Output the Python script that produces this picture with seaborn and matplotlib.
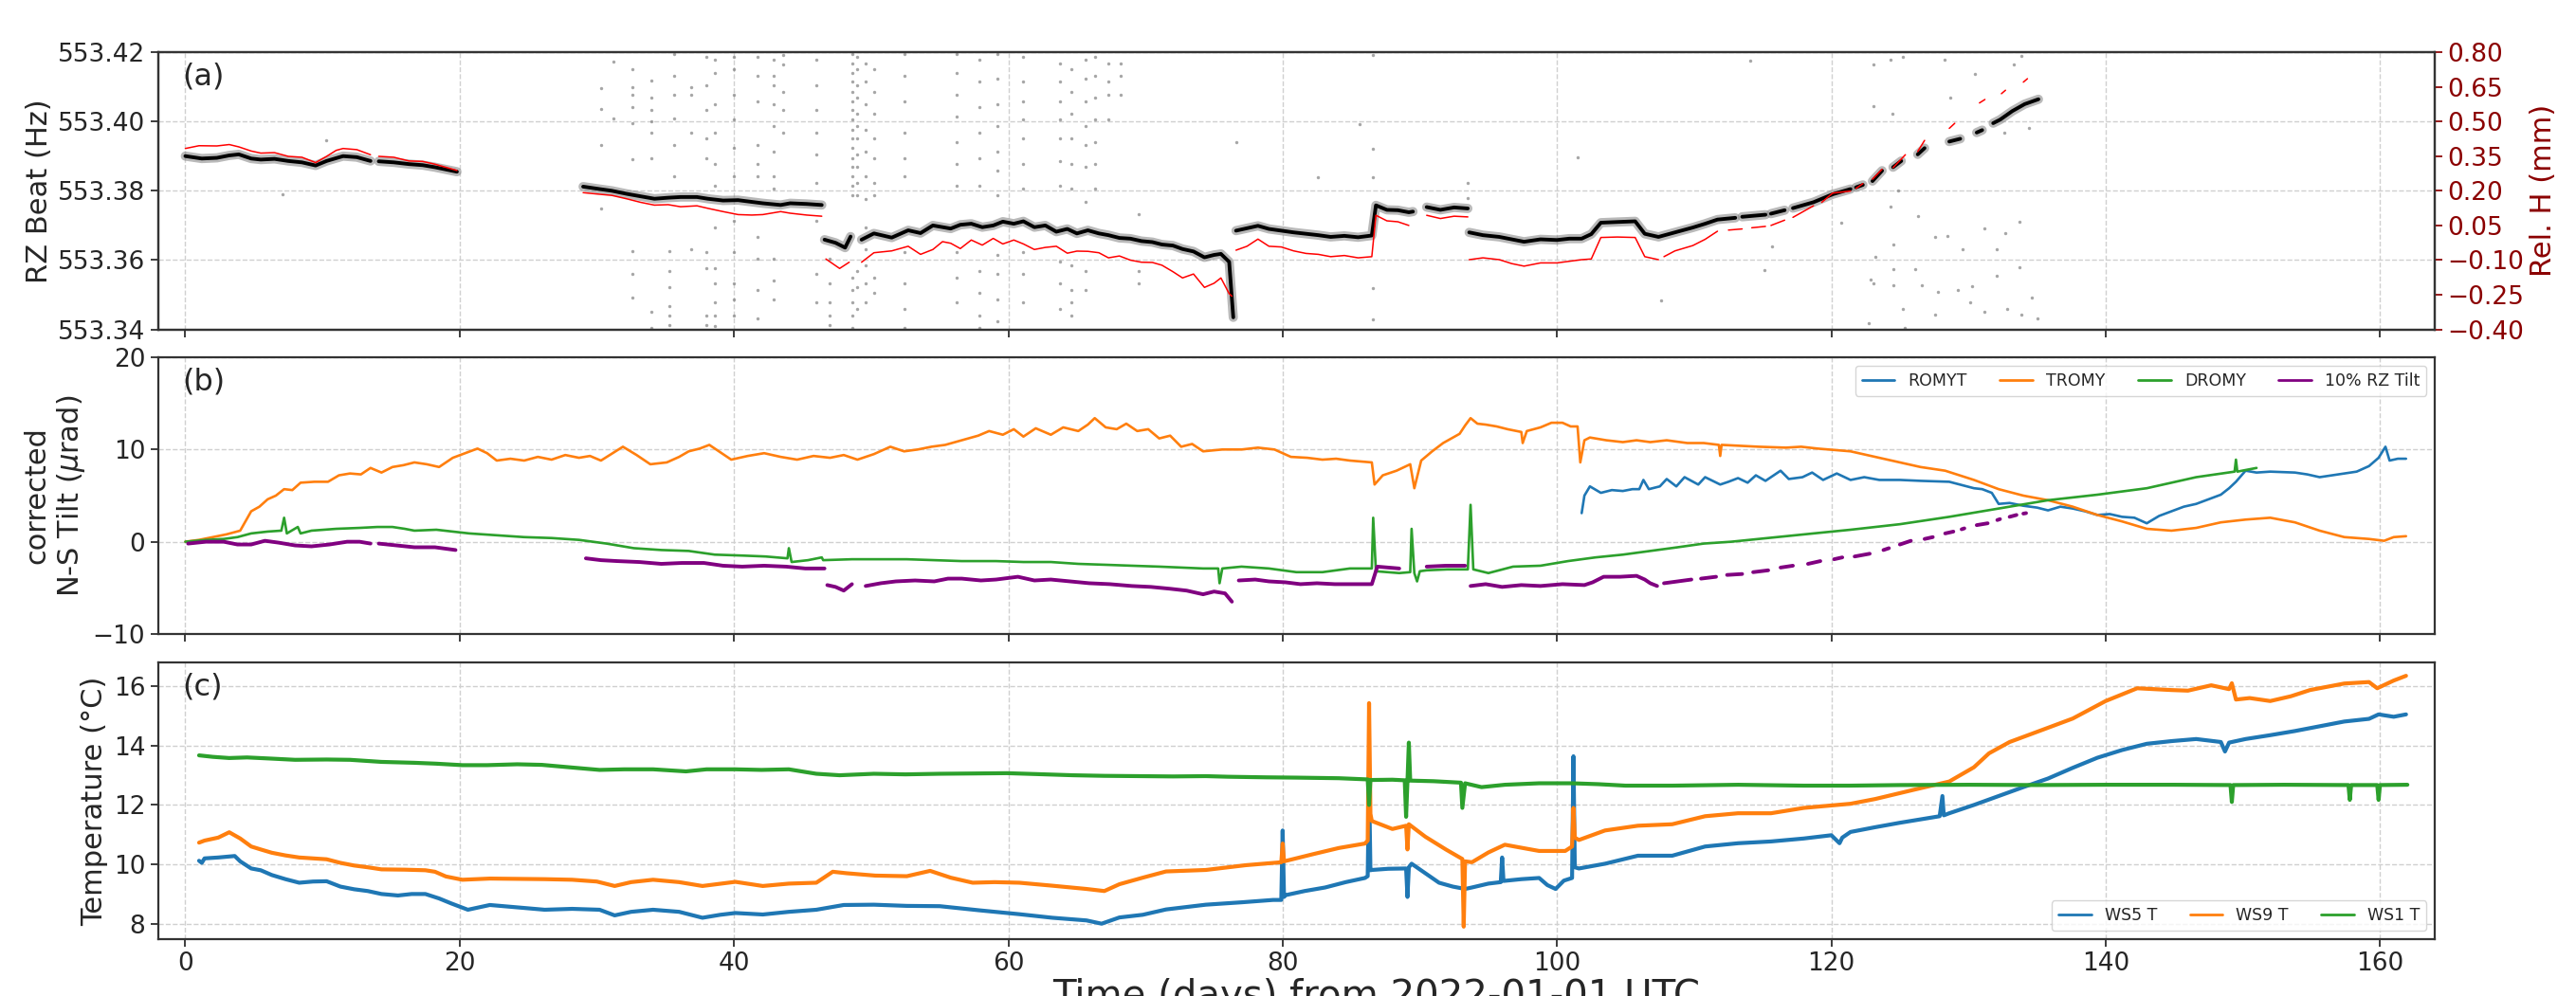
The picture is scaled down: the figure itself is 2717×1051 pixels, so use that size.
import matplotlib
matplotlib.use("Agg")
import matplotlib.pyplot as plt
from matplotlib.lines import Line2D
from matplotlib.ticker import FuncFormatter
import pandas as pd
import seaborn as sns

# values; x = days from 2022-01-01, None = data gap
rz_beat = [(0.0, 553.3900), (1.2, 553.3893), (2.3, 553.3895), (3.2, 553.3902), (3.9, 553.3905), (4.8, 553.3893),
           (5.5, 553.3890), (6.5, 553.3892), (7.5, 553.3886), (8.5, 553.3882), (9.5, 553.3873), (10.3, 553.3886),
           (11.5, 553.3900), (12.5, 553.3897), (13.5, 553.3886), None,
           (14.1, 553.3885), (15.2, 553.3882), (16.3, 553.3877), (17.3, 553.3874), (18.2, 553.3868), (19.8, 553.3855), None,
           (29.0, 553.3812), (30.2, 553.3805), (31.1, 553.3800), (32.2, 553.3791), (33.2, 553.3784), (34.2, 553.3777),
           (35.2, 553.3780), (36.1, 553.3782), (37.3, 553.3782), (38.1, 553.3777), (39.2, 553.3772), (40.3, 553.3773),
           (41.3, 553.3768), (42.1, 553.3764), (43.4, 553.3759), (44.1, 553.3764), (45.3, 553.3762), (46.4, 553.3759), None,
           (46.6, 553.3659), (47.4, 553.3650), (48.1, 553.3636), (48.5, 553.3668), None,
           (49.3, 553.3659), (50.2, 553.3677), (51.5, 553.3665), (52.7, 553.3686), (53.6, 553.3678), (54.5, 553.3700),
           (55.8, 553.3691), (56.5, 553.3702), (57.3, 553.3705), (58.1, 553.3695), (58.9, 553.3700), (59.6, 553.3711),
           (60.4, 553.3705), (61.1, 553.3712), (61.9, 553.3695), (62.7, 553.3700), (63.5, 553.3682), (64.3, 553.3690),
           (65.0, 553.3677), (65.8, 553.3686), (66.6, 553.3677), (67.3, 553.3672), (68.1, 553.3664), (68.9, 553.3662),
           (69.7, 553.3655), (70.5, 553.3652), (71.2, 553.3645), (72.0, 553.3642), (72.7, 553.3632), (73.5, 553.3625),
           (74.3, 553.3608), (75.0, 553.3615), (75.5, 553.3618), (76.1, 553.3595), (76.4, 553.3435), None,
           (76.6, 553.3685), (77.4, 553.3692), (78.2, 553.3699), (79.0, 553.3690), (79.9, 553.3685), (80.8, 553.3680),
           (81.7, 553.3676), (82.6, 553.3672), (83.5, 553.3667), (84.5, 553.3670), (85.5, 553.3666), (86.5, 553.3671),
           (86.8, 553.3758), (87.6, 553.3745), (88.4, 553.3744), (89.2, 553.3738), (89.5, 553.3740), None,
           (90.5, 553.3753), (91.5, 553.3745), (92.5, 553.3752), (93.5, 553.3749), None,
           (93.6, 553.3680), (94.6, 553.3672), (95.8, 553.3667), (96.7, 553.3660), (97.6, 553.3653), (98.8, 553.3660),
           (100.0, 553.3658), (100.9, 553.3662), (101.8, 553.3662), (102.5, 553.3675), (103.2, 553.3708), (104.4, 553.3710),
           (105.7, 553.3712), (106.4, 553.3676), (107.4, 553.3667), (108.6, 553.3680), (109.9, 553.3694), (110.8, 553.3705),
           (111.7, 553.3717), (113.0, 553.3722), None, (113.5, 553.3725), (115.2, 553.3731), None,
           (115.6, 553.3734), (116.6, 553.3744), None, (117.2, 553.3750), (118.7, 553.3767), (120.1, 553.3790),
           (121.4, 553.3805), None, (121.8, 553.3810), (122.3, 553.3817), None, (123.0, 553.3828), (123.7, 553.3858), None,
           (124.5, 553.3868), (125.1, 553.3886), None, (126.3, 553.3905), (126.8, 553.3923), None,
           (128.6, 553.3942), (129.4, 553.3950), None, (130.6, 553.3968), (131.0, 553.3975), None,
           (131.8, 553.3995), (132.3, 553.4005), (133.2, 553.4030), (134.1, 553.4050), (135.1, 553.4064)]

rel_h = [(0.0, 0.383), (1.0, 0.395), (2.3, 0.394), (3.2, 0.400), (3.9, 0.390), (4.8, 0.372), (5.5, 0.363),
         (6.5, 0.365), (7.5, 0.349), (8.5, 0.345), (9.5, 0.322), (10.3, 0.349), (11.0, 0.375), (11.5, 0.383),
         (12.5, 0.378), (13.5, 0.356), None,
         (14.1, 0.349), (15.2, 0.345), (16.3, 0.329), (17.3, 0.327), (18.2, 0.315), (19.8, 0.288), None,
         (29.0, 0.192), (30.2, 0.185), (31.1, 0.180), (32.2, 0.165), (33.2, 0.150), (34.2, 0.138), (35.2, 0.140),
         (36.1, 0.131), (37.3, 0.135), (38.1, 0.124), (39.2, 0.110), (40.3, 0.097), (41.3, 0.095), (42.1, 0.097),
         (43.4, 0.110), (44.1, 0.103), (45.3, 0.095), (46.4, 0.090), None,
         (46.7, -0.095), (47.7, -0.136), (48.4, -0.109), None,
         (49.3, -0.109), (50.2, -0.068), (51.5, -0.060), (52.7, -0.040), (53.6, -0.075), (54.5, -0.054),
         (55.2, -0.020), (55.8, -0.027), (56.5, -0.050), (57.3, -0.013), (58.1, -0.035), (58.9, -0.006),
         (59.6, -0.030), (60.4, -0.013), (61.1, -0.030), (61.9, -0.054), (62.7, -0.045), (63.5, -0.040),
         (64.3, -0.070), (65.0, -0.061), (65.8, -0.062), (66.6, -0.068), (67.3, -0.090), (68.1, -0.082),
         (68.9, -0.100), (69.7, -0.109), (70.5, -0.110), (71.2, -0.122), (72.0, -0.150), (72.7, -0.177),
         (73.5, -0.160), (74.3, -0.218), (75.0, -0.200), (75.5, -0.177), (76.1, -0.245), (76.3, -0.256), None,
         (76.6, -0.057), (77.4, -0.040), (78.2, -0.009), (79.0, -0.040), (79.9, -0.043), (80.8, -0.060),
         (81.7, -0.071), (82.6, -0.075), (83.5, -0.085), (84.5, -0.080), (85.5, -0.090), (86.5, -0.085),
         (86.8, 0.094), (87.6, 0.070), (88.4, 0.066), (89.2, 0.050), None,
         (90.5, 0.094), (91.5, 0.080), (92.5, 0.090), (93.5, 0.087), None,
         (93.6, -0.098), (94.6, -0.090), (95.8, -0.098), (96.7, -0.115), (97.6, -0.126), (98.8, -0.112),
         (100.0, -0.112), (100.9, -0.105), (101.8, -0.098), (102.5, -0.095), (103.2, -0.002), (104.4, 0.000),
         (105.7, -0.002), (106.4, -0.085), (107.4, -0.098), None,
         (107.8, -0.085), (108.6, -0.060), (109.9, -0.037), (110.8, -0.010), (111.7, 0.025), None,
         (112.5, 0.030), (113.5, 0.035), None, (114.2, 0.040), (115.2, 0.046), None, (115.6, 0.050), (116.6, 0.073), None,
         (117.2, 0.085), (118.7, 0.135), None, (119.3, 0.150), (120.1, 0.190), (121.4, 0.199), None,
         (121.8, 0.210), (122.3, 0.231), None, (123.0, 0.250), (123.7, 0.293), None, (124.5, 0.300), (125.4, 0.356), None,
         (126.3, 0.370), (126.8, 0.418), None, (128.6, 0.470), (129.0, 0.492), None, (130.8, 0.580), (131.2, 0.595), None,
         (132.4, 0.620), (132.7, 0.635), None, (134.0, 0.670), (134.3, 0.685)]

# gray outlier readings of the beat frequency: (day, [Hz values])
beat_spike_columns = [
    (30.3, [553.4095, 553.4036, 553.3932, 553.3750]),
    (31.2, [553.4173, 553.4009]),
    (32.6, [553.4150, 553.4100, 553.4077, 553.4041, 553.3995, 553.3891, 553.3627, 553.3559, 553.3491]),
    (34.0, [553.4118, 553.4068, 553.4032, 553.4000, 553.3968, 553.3895, 553.3450, 553.3405]),
    (35.3, [553.3627, 553.3568, 553.3523, 553.3468, 553.3441, 553.3414]),
    (35.6, [553.4195, 553.4132, 553.4077, 553.4009, 553.3932, 553.3841]),
    (36.9, [553.4100, 553.4077, 553.3968, 553.3632]),
    (38.0, [553.4186, 553.4105, 553.4032, 553.3950, 553.3895, 553.3623, 553.3577, 553.3441, 553.3414]),
    (38.6, [553.4177, 553.4141, 553.4050, 553.3968, 553.3877, 553.3814, 553.3695, 553.3577, 553.3532,
            553.3477, 553.3441, 553.3409]),
    (40.0, [553.4186, 553.4150, 553.4077, 553.4005, 553.3923, 553.3841, 553.3714, 553.3623, 553.3532,
            553.3486, 553.3441]),
    (41.7, [553.4186, 553.4132, 553.4059, 553.3932, 553.3877, 553.3841, 553.3668, 553.3605, 553.3514, 553.3432]),
    (42.9, [553.4177, 553.4132, 553.4105, 553.4050, 553.3986, 553.3914, 553.3841, 553.3805, 553.3605,
            553.3541, 553.3486]),
    (43.6, [553.4191, 553.4164, 553.4086, 553.4032, 553.3968]),
    (46.0, [553.4177, 553.4105, 553.4032, 553.3968, 553.3905, 553.3823, 553.3714, 553.3559, 553.3477]),
    (47.0, [553.3605, 553.3532, 553.3477, 553.3441, 553.3414]),
    (48.6, [553.4195, 553.4168, 553.4141, 553.4114, 553.4086, 553.4059, 553.4032, 553.4005, 553.3977,
            553.3950, 553.3923, 553.3895, 553.3868, 553.3841, 553.3814, 553.3786, 553.3550, 553.3514,
            553.3477, 553.3441, 553.3405]),
    (49.0, [553.4186, 553.4150, 553.4105, 553.4068, 553.4023, 553.3986, 553.3950, 553.3905, 553.3868,
            553.3823, 553.3786, 553.3568, 553.3523, 553.3459]),
    (49.6, [553.4168, 553.4114, 553.4050, 553.3977, 553.3914, 553.3841, 553.3777, 553.3695, 553.3632,
            553.3586, 553.3532, 553.3477]),
    (50.2, [553.4150, 553.4086, 553.4023, 553.3950, 553.3895, 553.3823, 553.3786, 553.3550, 553.3505]),
    (52.4, [553.4195, 553.4132, 553.4059, 553.3968, 553.3895, 553.3841, 553.3623, 553.3532, 553.3459, 553.3405]),
    (56.2, [553.4195, 553.4141, 553.4077, 553.4014, 553.3941, 553.3877, 553.3814, 553.3623, 553.3550, 553.3477]),
    (57.9, [553.4177, 553.4114, 553.4041, 553.3968, 553.3895, 553.3814, 553.3568, 553.3505, 553.3441, 553.3405]),
    (59.2, [553.4195, 553.4123, 553.4050, 553.3986, 553.3914, 553.3859, 553.3786, 553.3614, 553.3559,
            553.3486, 553.3423]),
    (61.1, [553.4186, 553.4114, 553.4059, 553.4005, 553.3950, 553.3877, 553.3805, 553.3623, 553.3559, 553.3477]),
    (63.8, [553.4168, 553.4114, 553.4059, 553.4005, 553.3950, 553.3886, 553.3814, 553.3595, 553.3532, 553.3459]),
    (64.6, [553.4150, 553.4086, 553.4023, 553.3950, 553.3877, 553.3805, 553.3586, 553.3514, 553.3477, 553.3441]),
    (65.6, [553.4177, 553.4123, 553.4059, 553.3986, 553.3932, 553.3868, 553.3768, 553.3568, 553.3514]),
    (66.3, [553.4186, 553.4132, 553.4068, 553.4005, 553.3941, 553.3877, 553.3805]),
    (67.3, [553.4168, 553.4114, 553.4077, 553.4005]),
    (68.2, [553.4168, 553.4132, 553.4077]),
    (69.5, [553.3732, 553.3659, 553.3568, 553.3532]),
    (86.6, [553.4192, 553.3922, 553.3840, 553.3520, 553.3429]),
]
beat_stray_points = [(7.1, 553.3790), (10.3, 553.3945), (76.65, 553.3941), (85.6, 553.3991), (82.6, 553.3840),
                     (93.5, 553.3822), (93.5, 553.3780), (101.5, 553.3897), (107.6, 553.3484), (114.1, 553.4174),
                     (115.1, 553.3570), (115.7, 553.3640),
                     (123.06, 553.4164), (124.32, 553.4177), (125.23, 553.4186), (128.29, 553.4179), (133.87, 553.4188),
                     (133.33, 553.4164), (130.45, 553.4136), (123.06, 553.4045), (124.43, 553.4021), (128.65, 553.4068),
                     (132.61, 553.3968), (134.41, 553.3982), (120.72, 553.3709), (124.86, 553.3802), (124.32, 553.3755),
                     (126.31, 553.3727), (127.57, 553.3668), (128.47, 553.3670), (129.55, 553.3632), (124.50, 553.3645),
                     (123.24, 553.3609), (122.88, 553.3545), (124.50, 553.3573), (126.13, 553.3573), (123.06, 553.3534),
                     (124.50, 553.3527), (126.59, 553.3527), (127.75, 553.3509), (129.19, 553.3515), (130.27, 553.3525),
                     (132.07, 553.3555), (133.69, 553.3579), (134.59, 553.3491), (135.06, 553.3432), (125.23, 553.3459),
                     (127.57, 553.3444), (130.09, 553.3477), (131.17, 553.3452), (132.79, 553.3459), (133.87, 553.3444),
                     (122.70, 553.3418), (125.33, 553.3405), (132.68, 553.3677), (133.69, 553.3711), (131.17, 553.3691),
                     (132.07, 553.3632)]

# panel (b): corrected N-S tilt, micro-radians
romyt = [(101.8, 3.1), (102.0, 5.0), (102.4, 6.0), (103.2, 5.3), (104.0, 5.6), (104.8, 5.5), (105.5, 5.7),
         (106.0, 5.7), (106.3, 6.7), (106.7, 5.7), (107.5, 6.0), (108.0, 6.8), (108.7, 6.0), (109.3, 7.0),
         (110.3, 6.2), (110.8, 7.0), (111.9, 6.2), (112.5, 6.5), (113.2, 6.9), (113.9, 6.4), (114.5, 7.2),
         (115.2, 6.6), (116.3, 7.7), (116.9, 6.8), (117.9, 7.0), (118.6, 7.5), (119.4, 6.7), (120.4, 7.4),
         (121.4, 6.7), (122.4, 7.0), (123.5, 6.7), (125.0, 6.7), (126.5, 6.6), (128.6, 6.5), (130.4, 5.8),
         (131.0, 5.7), (131.7, 5.3), (132.2, 4.1), (133.0, 4.2), (134.0, 3.9), (135.0, 3.7), (135.8, 3.4),
         (136.7, 3.8), (137.6, 3.6), (138.5, 3.3), (139.4, 2.9), (140.3, 3.0), (141.2, 2.7), (142.1, 2.6),
         (143.0, 2.0), (143.9, 2.8), (144.8, 3.3), (145.7, 3.8), (146.6, 4.1), (147.5, 4.6), (148.4, 5.1),
         (149.0, 5.8), (149.5, 6.5), (150.2, 7.7), (151.0, 7.5), (152.0, 7.6), (153.8, 7.5), (154.7, 7.3),
         (155.6, 7.0), (156.5, 7.2), (157.4, 7.4), (158.3, 7.6), (159.2, 8.2), (159.9, 9.1), (160.4, 10.3),
         (160.7, 8.8), (161.3, 9.0), (161.9, 9.0)]

tromy = [(0.0, 0.0), (1.0, 0.2), (2.0, 0.5), (3.0, 0.8), (4.0, 1.2), (4.8, 3.3), (5.4, 3.8), (6.0, 4.6),
         (6.6, 5.0), (7.2, 5.7), (7.8, 5.6), (8.4, 6.4), (9.4, 6.5), (10.4, 6.5), (11.2, 7.2), (12.0, 7.4),
         (12.8, 7.3), (13.5, 8.0), (14.3, 7.5), (15.1, 8.1), (15.9, 8.3), (16.7, 8.6), (17.6, 8.4), (18.5, 8.1),
         (19.5, 9.1), (20.4, 9.6), (21.3, 10.1), (22.0, 9.6), (22.7, 8.8), (23.7, 9.0), (24.7, 8.8), (25.7, 9.2),
         (26.7, 8.9), (27.7, 9.4), (28.7, 9.1), (29.5, 9.3), (30.3, 8.8), (31.9, 10.3), (32.9, 9.4), (33.9, 8.4),
         (35.1, 8.6), (36.0, 9.2), (36.7, 9.8), (37.5, 10.1), (38.2, 10.5), (39.0, 9.7), (39.8, 8.9), (41.0, 9.3),
         (42.2, 9.6), (43.4, 9.2), (44.6, 8.9), (45.8, 9.3), (47.0, 9.1), (48.0, 9.4), (49.0, 8.9), (50.2, 9.5),
         (51.4, 10.3), (52.4, 9.8), (53.4, 10.0), (54.4, 10.3), (55.4, 10.5), (56.6, 11.0), (57.8, 11.5),
         (58.6, 12.0), (59.6, 11.6), (60.4, 12.2), (61.1, 11.4), (62.0, 12.3), (63.1, 11.6), (64.0, 12.4),
         (65.1, 12.0), (65.8, 12.7), (66.3, 13.4), (67.1, 12.4), (67.9, 12.2), (68.6, 12.8), (69.4, 12.0),
         (70.2, 12.2), (71.0, 11.2), (71.8, 11.5), (72.6, 10.3), (73.4, 10.6), (74.2, 9.8), (75.6, 10.0),
         (77.0, 10.0), (78.2, 10.2), (79.4, 10.0), (80.6, 9.2), (81.8, 9.1), (82.9, 8.9), (83.9, 9.0),
         (84.9, 8.8), (86.5, 8.6), (86.7, 6.2), (87.3, 7.2), (88.3, 7.7), (89.3, 8.4), (89.6, 5.8), (90.1, 8.8),
         (90.9, 9.8), (91.7, 10.7), (92.3, 11.2), (92.9, 11.7), (93.3, 12.6), (93.7, 13.4), (94.2, 12.8),
         (94.8, 12.7), (95.6, 12.5), (96.4, 12.2), (97.4, 11.9), (97.5, 10.7), (97.8, 12.0), (98.8, 12.4),
         (99.6, 12.9), (100.4, 12.9), (101.0, 12.5), (101.5, 12.5), (101.7, 8.6), (102.0, 11.0), (102.4, 11.3),
         (103.6, 11.0), (104.8, 10.8), (105.8, 11.0), (106.8, 10.8), (108.0, 11.0), (109.5, 10.7), (110.7, 10.7),
         (111.8, 10.5), (111.9, 9.3), (112.0, 10.5), (113.3, 10.4), (114.7, 10.3), (116.7, 10.2), (117.8, 10.3),
         (119.0, 10.1), (121.4, 9.8), (123.2, 9.2), (125.0, 8.6), (126.5, 8.1), (128.3, 7.7), (130.4, 6.7),
         (132.2, 5.7), (134.0, 5.0), (135.8, 4.5), (137.6, 3.8), (139.4, 2.9), (141.2, 2.2), (143.0, 1.4),
         (144.8, 1.2), (146.6, 1.5), (148.4, 2.1), (150.2, 2.4), (152.0, 2.6), (153.8, 2.1), (155.6, 1.2),
         (157.4, 0.5), (159.2, 0.3), (160.3, 0.1), (161.0, 0.5), (161.9, 0.6)]

dromy = [(0.0, 0.0), (1.5, 0.2), (2.8, 0.3), (3.8, 0.5), (4.8, 0.9), (6.0, 1.1), (7.0, 1.2), (7.2, 2.6),
         (7.4, 0.9), (8.2, 1.6), (8.4, 0.9), (9.2, 1.2), (11.0, 1.4), (12.7, 1.5), (14.0, 1.6), (15.1, 1.6),
         (16.0, 1.4), (16.7, 1.2), (18.3, 1.3), (19.5, 1.1), (20.7, 0.9), (22.7, 0.7), (24.7, 0.5), (26.7, 0.4),
         (28.7, 0.2), (30.7, -0.2), (32.7, -0.7), (34.7, -0.9), (36.7, -1.0), (38.6, -1.4), (40.6, -1.5),
         (42.3, -1.6), (43.9, -1.8), (44.0, -0.7), (44.2, -2.2), (45.4, -2.0), (46.4, -1.7), (46.5, -2.0),
         (48.6, -1.9), (50.6, -1.9), (52.6, -1.9), (54.6, -2.0), (56.6, -2.1), (59.1, -2.1), (61.1, -2.2),
         (63.1, -2.2), (65.1, -2.4), (67.1, -2.5), (69.0, -2.6), (71.0, -2.7), (72.6, -2.8), (74.2, -2.9),
         (75.3, -2.9), (75.4, -4.5), (75.6, -2.9), (77.0, -2.7), (79.0, -2.9), (81.0, -3.3), (82.9, -3.3),
         (84.9, -2.9), (86.5, -2.9), (86.6, 2.6), (86.8, -3.2), (88.5, -3.4), (89.3, -3.3), (89.4, 1.4),
         (89.6, -3.4), (89.8, -4.3), (90.0, -3.2), (90.5, -3.1), (92.0, -3.0), (93.5, -3.0), (93.7, 4.0),
         (93.9, -3.0), (95.0, -3.4), (96.8, -2.7), (98.8, -2.6), (100.8, -2.1), (102.8, -1.7), (104.8, -1.4),
         (106.8, -1.0), (108.8, -0.6), (110.7, -0.2), (112.7, 0.0), (114.7, 0.3), (116.7, 0.6), (118.7, 0.9),
         (121.4, 1.3), (125.0, 1.9), (128.6, 2.7), (132.2, 3.6), (135.8, 4.5), (139.4, 5.1), (143.0, 5.8),
         (146.6, 7.0), (149.4, 7.6), (149.5, 8.9), (149.6, 7.6), (151.0, 8.0)]

rz_tilt = [(0.2, -0.2), (1.5, 0.0), (2.8, 0.0), (3.8, -0.3), (4.8, -0.3), (5.8, 0.1), (6.8, -0.1), (8.0, -0.4),
           (9.2, -0.5), (10.5, -0.3), (11.8, 0.0), (12.7, 0.0), (13.5, -0.2), None,
           (14.1, -0.2), (15.4, -0.4), (16.7, -0.6), (18.2, -0.6), (19.7, -0.9), None,
           (29.2, -1.8), (30.3, -2.0), (31.5, -2.1), (33.1, -2.2), (34.7, -2.4), (36.2, -2.3), (37.8, -2.3),
           (39.2, -2.6), (40.6, -2.7), (42.2, -2.6), (43.8, -2.7), (45.2, -2.9), (46.6, -2.9), None,
           (46.8, -4.7), (47.4, -4.9), (48.0, -5.3), (48.6, -4.6), None,
           (49.6, -4.8), (50.7, -4.5), (51.8, -4.3), (53.2, -4.2), (54.6, -4.3), (55.6, -4.0), (56.6, -4.0),
           (58.0, -4.2), (59.1, -4.1), (60.7, -3.8), (61.9, -4.2), (63.1, -4.1), (64.5, -4.3), (65.9, -4.5),
           (67.4, -4.6), (69.0, -4.8), (70.4, -4.9), (71.8, -5.1), (73.0, -5.3), (74.2, -5.7), (75.0, -5.4),
           (75.8, -5.6), (76.3, -6.5), None,
           (76.8, -4.2), (78.0, -4.1), (79.0, -4.3), (80.2, -4.4), (81.3, -4.6), (82.5, -4.5), (83.8, -4.6),
           (85.2, -4.6), (86.5, -4.6), (86.9, -2.7), (88.5, -2.9), None,
           (90.5, -2.7), (91.9, -2.6), (93.3, -2.6), None,
           (93.7, -4.8), (94.8, -4.6), (96.0, -4.9), (97.4, -4.7), (98.8, -4.8), (100.4, -4.6), (102.0, -4.7),
           (102.6, -4.4), (103.4, -3.8), (104.6, -3.8), (105.8, -3.7), (106.4, -4.1), (106.8, -4.5), (107.3, -4.8), None,
           (107.8, -4.5), (108.8, -4.3), (109.8, -4.1), None, (110.5, -4.0), (111.6, -3.8), None,
           (112.4, -3.6), (113.5, -3.5), None, (114.3, -3.3), (115.4, -3.1), None, (116.3, -2.8), (117.2, -2.6), None,
           (118.3, -2.4), (119.2, -2.1), None, (120.2, -1.9), (120.8, -1.7), None, (121.7, -1.6), (122.8, -1.3), None,
           (123.8, -0.9), (124.2, -0.7), None, (125.0, -0.3), (125.8, 0.1), None, (126.8, 0.3), (127.4, 0.5), None,
           (128.3, 0.9), (128.9, 1.1), None, (129.5, 1.35), (129.7, 1.45), None, (130.6, 1.8), (131.4, 2.0), None,
           (132.1, 2.35), (132.3, 2.45), None, (133.0, 2.7), (133.5, 2.9), None, (134.0, 3.05), (134.2, 3.1)]

# panel (c): temperatures, deg C
ws5_t = [(1.0, 10.12), (1.2, 10.05), (1.4, 10.2), (2.4, 10.23), (3.6, 10.28), (4.0, 10.1), (4.8, 9.86),
         (5.5, 9.8), (6.3, 9.64), (7.3, 9.5), (8.3, 9.38), (9.3, 9.42), (10.3, 9.43), (11.3, 9.25), (12.3, 9.16),
         (13.3, 9.1), (14.3, 9.0), (15.5, 8.95), (16.5, 9.0), (17.5, 9.0), (18.5, 8.85), (19.4, 8.68),
         (20.6, 8.47), (21.4, 8.55), (22.2, 8.63), (24.2, 8.55), (26.2, 8.47), (28.2, 8.5), (30.2, 8.47),
         (31.3, 8.28), (32.5, 8.4), (34.1, 8.47), (36.0, 8.4), (37.7, 8.2), (39.0, 8.3), (40.1, 8.36),
         (42.1, 8.31), (44.0, 8.4), (46.0, 8.47), (48.0, 8.63), (50.2, 8.64), (52.6, 8.6), (55.0, 8.59),
         (57.9, 8.45), (60.8, 8.32), (63.2, 8.2), (65.7, 8.11), (66.8, 8.0), (68.1, 8.21), (69.8, 8.3),
         (71.5, 8.48), (74.4, 8.64), (77.0, 8.72), (79.3, 8.8), (79.9, 8.8), (80.0, 11.14), (80.1, 8.9),
         (80.2, 8.96), (81.6, 9.1), (83.1, 9.22), (84.6, 9.4), (86.0, 9.54), (86.2, 9.6), (86.3, 12.84),
         (86.4, 9.8), (86.5, 9.81), (87.7, 9.85), (89.0, 9.86), (89.1, 8.9), (89.2, 9.9), (89.4, 10.02),
         (90.4, 9.7), (91.4, 9.38), (92.4, 9.25), (93.3, 9.17), (93.8, 9.22), (95.0, 9.35), (95.9, 9.4),
         (96.0, 10.23), (96.1, 9.44), (97.4, 9.5), (98.7, 9.54), (99.3, 9.3), (99.9, 9.17), (100.5, 9.45),
         (101.1, 9.54), (101.2, 13.64), (101.3, 9.9), (101.6, 9.86), (103.5, 10.02), (105.9, 10.29),
         (108.4, 10.29), (110.8, 10.6), (113.2, 10.71), (115.6, 10.77), (118.0, 10.87), (120.0, 10.98),
         (120.6, 10.71), (120.8, 10.9), (121.4, 11.09), (123.2, 11.25), (125.0, 11.4), (127.9, 11.62),
         (128.1, 12.3), (128.2, 11.65), (128.6, 11.72), (130.4, 12.0), (132.2, 12.3), (134.0, 12.6),
         (135.8, 12.89), (137.6, 13.25), (139.4, 13.59), (141.2, 13.85), (143.0, 14.06), (144.8, 14.15),
         (146.6, 14.22), (148.4, 14.12), (148.7, 13.8), (149.0, 14.1), (150.2, 14.22), (152.0, 14.35),
         (153.8, 14.49), (155.6, 14.65), (157.4, 14.81), (159.2, 14.9), (159.9, 15.05), (161.0, 14.97),
         (161.9, 15.05)]

ws9_t = [(1.0, 10.73), (1.4, 10.8), (2.4, 10.9), (3.2, 11.08), (4.0, 10.87), (4.8, 10.6), (5.5, 10.5),
         (6.3, 10.39), (7.3, 10.3), (8.3, 10.23), (9.3, 10.2), (10.3, 10.17), (11.3, 10.05), (12.3, 9.96),
         (13.3, 9.9), (14.3, 9.83), (16.0, 9.82), (17.5, 9.8), (18.2, 9.75), (19.0, 9.59), (20.2, 9.48),
         (22.2, 9.52), (24.2, 9.51), (26.2, 9.5), (28.2, 9.48), (30.0, 9.42), (31.3, 9.27), (32.5, 9.4),
         (34.1, 9.48), (36.0, 9.4), (37.7, 9.27), (40.1, 9.41), (42.1, 9.27), (44.0, 9.35), (46.0, 9.38),
         (47.2, 9.75), (48.2, 9.7), (50.3, 9.62), (52.6, 9.6), (54.3, 9.78), (55.8, 9.55), (57.4, 9.38),
         (59.0, 9.4), (60.8, 9.38), (63.2, 9.28), (65.7, 9.17), (67.0, 9.1), (68.1, 9.33), (69.8, 9.55),
         (71.5, 9.76), (74.4, 9.81), (77.3, 9.97), (79.9, 10.07), (80.0, 10.7), (80.1, 10.1), (82.2, 10.34),
         (84.1, 10.55), (86.0, 10.7), (86.2, 10.8), (86.3, 15.43), (86.4, 11.7), (86.5, 11.46), (88.0, 11.19),
         (89.0, 11.3), (89.1, 10.5), (89.2, 11.35), (90.4, 10.93), (91.9, 10.5), (93.1, 10.18), (93.2, 7.9),
         (93.3, 10.1), (93.8, 10.07), (95.0, 10.4), (96.2, 10.66), (97.5, 10.55), (98.7, 10.45), (100.6, 10.45),
         (101.1, 10.6), (101.2, 11.9), (101.3, 10.9), (101.6, 10.82), (103.5, 11.14), (105.9, 11.3),
         (108.4, 11.35), (110.8, 11.62), (113.2, 11.72), (115.6, 11.72), (118.0, 11.9), (121.4, 12.04),
         (123.2, 12.2), (126.1, 12.52), (128.6, 12.79), (130.4, 13.27), (131.5, 13.74), (133.0, 14.12),
         (135.8, 14.6), (137.6, 14.91), (140.0, 15.5), (142.3, 15.93), (144.8, 15.87), (146.0, 15.85),
         (147.7, 16.03), (149.0, 15.9), (149.2, 16.1), (149.5, 15.55), (150.5, 15.6), (152.0, 15.5),
         (153.5, 15.66), (154.9, 15.87), (157.4, 16.09), (159.2, 16.14), (159.8, 15.93), (161.0, 16.19),
         (161.9, 16.35)]

ws1_t = [(1.0, 13.67), (2.0, 13.62), (3.2, 13.58), (4.5, 13.6), (6.3, 13.56), (8.0, 13.52), (10.3, 13.53),
         (12.0, 13.52), (14.3, 13.45), (16.7, 13.42), (18.3, 13.39), (20.2, 13.34), (22.0, 13.34), (24.2, 13.37),
         (26.0, 13.35), (28.2, 13.26), (30.2, 13.18), (32.0, 13.2), (34.1, 13.2), (36.5, 13.13), (38.0, 13.2),
         (40.1, 13.2), (42.0, 13.18), (44.0, 13.2), (46.0, 13.05), (47.7, 13.0), (50.2, 13.05), (52.5, 13.03),
         (55.0, 13.05), (57.5, 13.06), (59.9, 13.07), (62.0, 13.04), (64.7, 13.0), (67.0, 12.98), (69.6, 12.97),
         (72.0, 12.96), (74.4, 12.97), (76.0, 12.95), (78.8, 12.93), (81.0, 12.92), (84.1, 12.9), (86.2, 12.86),
         (86.3, 12.0), (86.4, 12.84), (88.0, 12.85), (88.9, 12.83), (89.0, 11.6), (89.1, 12.8), (89.2, 14.1),
         (89.3, 12.82), (91.0, 12.8), (93.0, 12.75), (93.1, 11.9), (93.3, 12.73), (94.5, 12.6), (96.2, 12.68),
         (98.7, 12.73), (101.1, 12.73), (103.0, 12.7), (105.0, 12.65), (108.4, 12.65), (113.2, 12.68),
         (118.0, 12.65), (121.3, 12.65), (125.0, 12.67), (130.0, 12.68), (135.0, 12.67), (140.0, 12.68),
         (145.0, 12.68), (149.1, 12.67), (149.2, 12.1), (149.3, 12.67), (153.0, 12.68), (157.7, 12.67),
         (157.8, 12.17), (157.9, 12.67), (159.8, 12.67), (159.9, 12.17), (160.0, 12.67), (162.0, 12.68)]

rel_h_ticks = [-0.40, -0.25, -0.10, 0.05, 0.20, 0.35, 0.50, 0.65, 0.80]


def to_frame(pairs):
    # split the list on None so that gaps stay gaps
    rows, seg = [], 0
    for p in pairs:
        if p is None:
            seg += 1
            continue
        rows.append((p[0], p[1], seg))
    return pd.DataFrame(rows, columns=["day", "value", "seg"])


def draw(ax, pairs, color, lw, **kw):
    sns.lineplot(data=to_frame(pairs), x="day", y="value", units="seg", estimator=None, sort=False,
                 color=color, lw=lw, ax=ax, legend=False, **kw)


sns.set_theme(style="ticks")
plt.rcParams['font.family'] = ['DejaVu Sans']

fig = plt.figure(figsize=(27.17, 10.51), dpi=100)
left, width = 0.0613, 0.8839
ax_a = fig.add_axes([left, 0.6692, width, 0.2785])
ax_b = fig.add_axes([left, 0.3635, width, 0.2778], sharex=ax_a)
ax_c = fig.add_axes([left, 0.0571, width, 0.2778], sharex=ax_a)

TICK, LAB = 19, 22

# (a) beat note with outliers, relative height on twin axis
spikes = pd.DataFrame([(d, v) for d, vals in beat_spike_columns for v in vals] + beat_stray_points,
                      columns=["day", "value"])
sns.scatterplot(data=spikes, x="day", y="value", s=6, color="gray", alpha=0.7, linewidth=0, ax=ax_a, zorder=1)
draw(ax_a, rz_beat, "gray", 7, alpha=0.55)
draw(ax_a, rz_beat, "black", 2.8)
ax_a.set_ylim(553.34, 553.42)
ax_a.set_yticks([553.34, 553.36, 553.38, 553.40, 553.42])
ax_a.yaxis.set_major_formatter(FuncFormatter(lambda v, _: f"{v:.2f}"))
ax_a.set_ylabel("RZ Beat (Hz)", fontsize=LAB)

ax_r = ax_a.twinx()
draw(ax_r, rel_h, "red", 1.1)
ax_r.set_ylim(-0.40, 0.80)
ax_r.set_yticks(rel_h_ticks)
ax_r.yaxis.set_major_formatter(FuncFormatter(lambda v, _: f"{v:.2f}".replace("-", "\u2212")))
ax_r.tick_params(axis="y", labelsize=TICK, colors="darkred")
ax_r.set_ylabel("Rel. H (mm)", fontsize=LAB, color="darkred")
ax_r.set_xlabel("")

# (b) tilt
tilt_series = [("ROMYT", romyt, "tab:blue"), ("TROMY", tromy, "tab:orange"),
               ("DROMY", dromy, "tab:green"), ("10% RZ Tilt", rz_tilt, "purple")]
for name, pairs, col in tilt_series:
    draw(ax_b, pairs, col, 2.8 if name == "10% RZ Tilt" else 1.9)
ax_b.set_ylim(-10, 20)
ax_b.set_yticks([-10, 0, 10, 20])
ax_b.set_ylabel("corrected\nN-S Tilt ($\\mu$rad)", fontsize=LAB)
ax_b.legend([Line2D([], [], color=c, lw=2) for _, _, c in tilt_series], [n for n, _, _ in tilt_series],
            loc="upper right", ncol=4, fontsize=12.5, frameon=True)

# (c) temperatures
temp_series = [("WS5 T", ws5_t, "tab:blue"), ("WS9 T", ws9_t, "tab:orange"), ("WS1 T", ws1_t, "tab:green")]
for name, pairs, col in temp_series:
    draw(ax_c, pairs, col, 3.0)
ax_c.set_ylim(7.48, 16.8)
ax_c.set_yticks([8, 10, 12, 14, 16])
ax_c.set_ylabel("Temperature (°C)", fontsize=LAB)
ax_c.legend([Line2D([], [], color=c, lw=2) for _, _, c in temp_series], [n for n, _, _ in temp_series],
            loc="lower right", ncol=3, fontsize=12.5, frameon=True)

ax_c.set_xlim(-2.0, 164.0)
ax_c.set_xticks([0, 20, 40, 60, 80, 100, 120, 140, 160])
ax_c.set_xlabel("Time (days) from 2022-01-01 UTC", fontsize=29)
ax_c.xaxis.set_label_coords(0.535, -0.14)

for ax, tag in [(ax_a, "(a)"), (ax_b, "(b)"), (ax_c, "(c)")]:
    ax.grid(True, ls="--", color="#d0d0d0", lw=1.0)
    ax.tick_params(labelsize=TICK)
    ax.text(0.0105, 0.965, tag, transform=ax.transAxes, fontsize=23, va="top", ha="left")
    for sp in ax.spines.values():
        sp.set_linewidth(1.6)
        sp.set_color("#333333")
    if ax is not ax_c:
        ax.tick_params(labelbottom=False)
        ax.set_xlabel("")
for sp in ax_r.spines.values():
    sp.set_linewidth(1.6)
    sp.set_color("#333333")

fig.savefig("out.png", dpi=100)
